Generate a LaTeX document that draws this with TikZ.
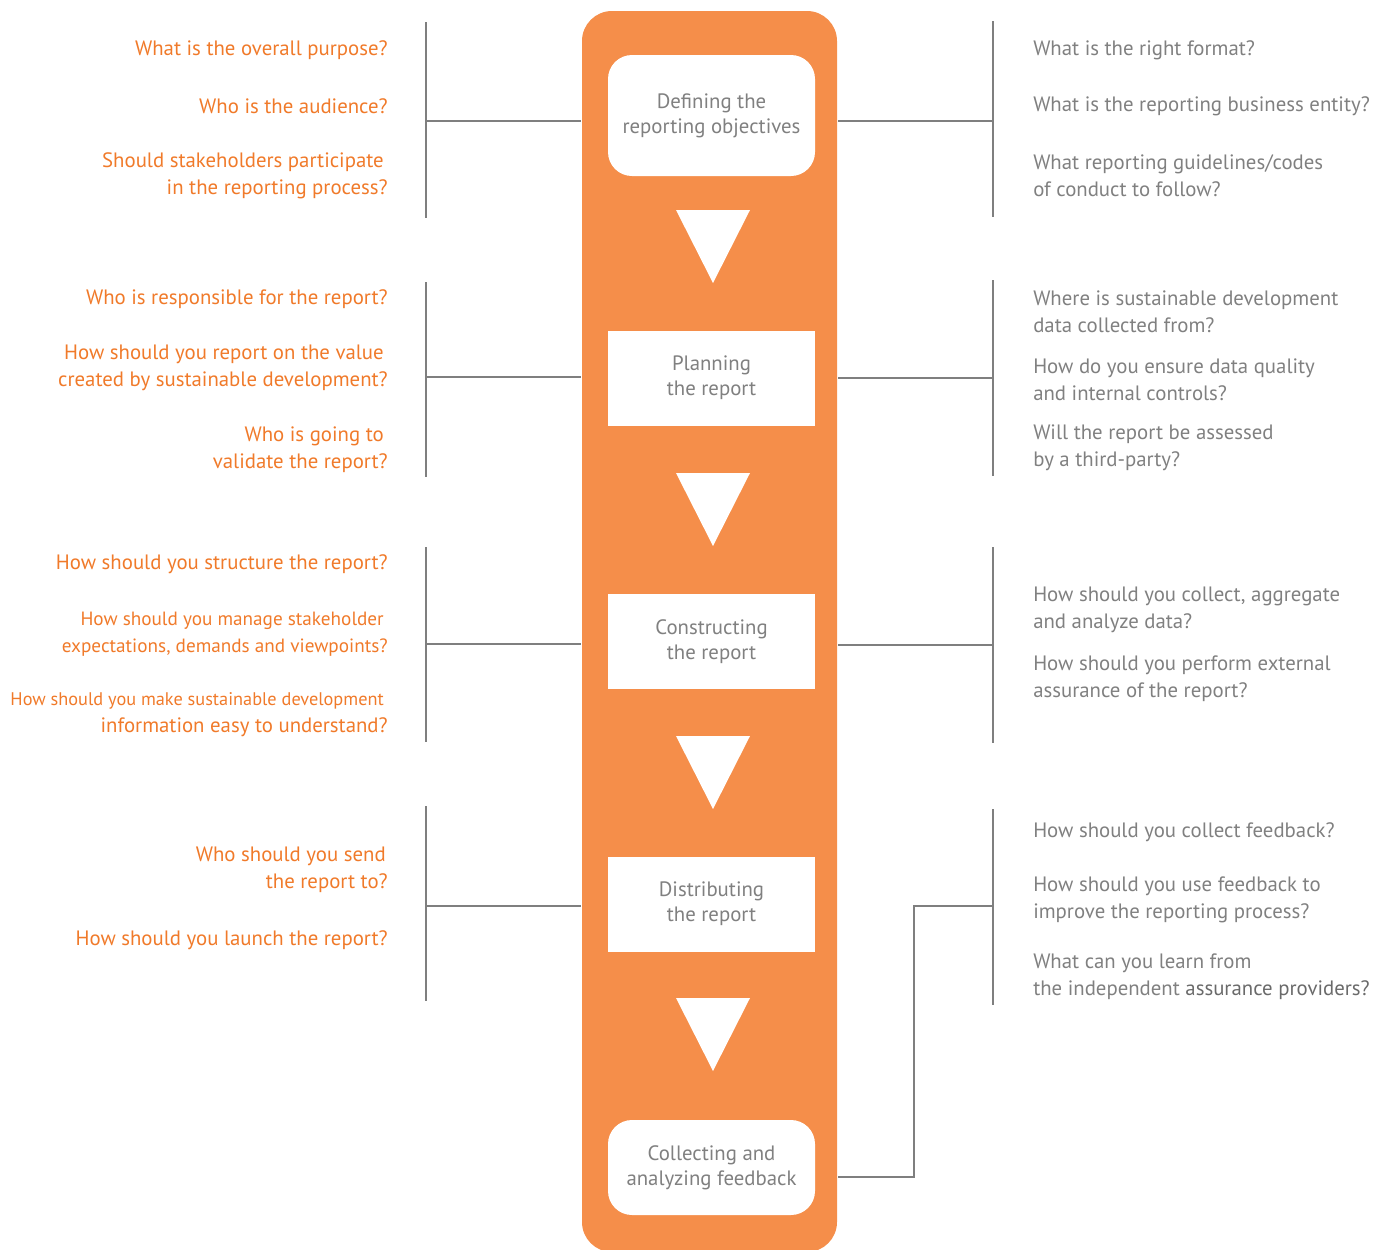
\documentclass[tikz,border=0pt]{standalone}
\usepackage{fontspec}
\setmainfont{PT Sans}
\definecolor{colorange}{HTML}{F58E4A}
\definecolor{qorange}{HTML}{F07A2A}
\definecolor{qgrey}{HTML}{808080}
\definecolor{qdark}{HTML}{6A6A6A}
\definecolor{bargrey}{HTML}{7F7F7F}

\begin{document}
\begin{tikzpicture}[x=0.5pt, y=-0.5pt, line width=1.25pt]
	\tikzstyle{every node}=[inner sep=0pt, font=\fontsize{10.4}{13.5}\selectfont]
	\tikzstyle{lq}=[anchor=east, align=right, text=qorange, yshift=-1pt]
	\tikzstyle{rq}=[anchor=west, align=left, text=qgrey, yshift=-1pt]
	\tikzstyle{stage}=[fill=white, text=qgrey, align=center, minimum width=103.5pt, minimum height=47.5pt, font=\fontsize{10.4}{12.5}\selectfont]
	\tikzstyle{bar}=[draw=bargrey]
	\useasboundingbox (0,0) rectangle (1382,1249);
	\clip (0,0) rectangle (1382,1249);

		% the orange column with the five stages
		\node[fill=colorange, rounded corners=15pt, minimum width=127.5pt, minimum height=620.5pt] (col) at (709.5,631.5) {};
		\node[stage, rounded corners=12pt, minimum height=60.5pt] (defining) at (711.5,115.5) {Defining the\\reporting objectives};
		\node[stage] (planning) at (711.5,378) {Planning\\the report};
		\node[stage] (constructing) at (711.5,641.5) {Constructing\\the report};
		\node[stage] (distributing) at (711.5,904) {Distributing\\the report};
		\node[stage, rounded corners=12pt] (collecting) at (711.5,1167.5) {Collecting and\\analyzing feedback};
		\foreach \y in {210,473,736,998}
			\fill[white] (676,\y) -- (750,\y) -- (713,{\y+73}) -- cycle;

		% brackets
		\foreach \t/\b/\m [count=\i] in {22/218/121, 282/477/377, 547/742/644, 806/1001/906} {
			\draw[bar] (426,\t) -- (426,\b);
			\coordinate (lbar\i) at (426,\m);
		}
		\foreach \t/\b/\m [count=\i] in {21/217/121, 280/476/378, 547/743/645, 809/1005/906} {
			\draw[bar] (993,\t) -- (993,\b);
			\coordinate (rbar\i) at (993,\m);
		}
		\foreach \i in {1,...,4}
			\draw[bar] (lbar\i) -- (lbar\i -| col.west);
		\foreach \i in {1,2,3}
			\draw[bar] (rbar\i) -- (rbar\i -| col.east);
		\coordinate (knee) at (914,906);
		\draw[bar] (rbar4) -- (knee) |- ([yshift=-4.75pt]collecting.east -| col.east);

		% questions on the left
		\node[lq] (purpose) at (389,48) {What is the overall purpose?};
		\node[lq] (audience) at (389,104) {Who is the audience?};
		\node[lq] (participate) at (389,174) {Should stakeholders participate\hspace*{2pt}\\in the reporting process?};
		\node[lq] (responsible) at (389,297) {Who is responsible for the report?};
		\node[lq] (value) at (389,366) {How should you report on the value\hspace*{2pt}\\created by sustainable development?};
		\node[lq] (validate) at (389,448) {Who is going to\hspace*{2pt}\\validate the report?};
		\node[lq] (structure) at (389,562) {How should you structure the report?};
		\node[lq, font=\fontsize{9.6}{13.5}\selectfont] (expectations) at (389,632) {How should you manage stakeholder\hspace*{2pt}\\expectations, demands and viewpoints?};
		\node[lq] (easy) at (389,713) {{\fontsize{9.15}{13.5}\selectfont How should you make sustainable development\hspace*{2pt}}\\information easy to understand?};
		\node[lq] (send) at (389,868) {Who should you send\hspace*{1pt}\\the report to?};
		\node[lq] (launch) at (389,938) {How should you launch the report?};

		% questions on the right
		\node[rq] (format) at (1032,48) {What is the right format?};
		\node[rq] (entity) at (1032,104) {What is the reporting business entity?};
		\node[rq] (guidelines) at (1032,174) {What reporting guidelines/codes\\of conduct to follow?};
		\node[rq] (source) at (1032,310) {Where is sustainable development\\data collected from?};
		\node[rq] (quality) at (1032,378) {How do you ensure data quality\\and internal controls?};
		\node[rq] (assessed) at (1032,446) {Will the report be assessed\\by a third-party?};
		\node[rq] (aggregate) at (1032,608) {How should you collect, aggregate\\and analyze data?};
		\node[rq] (external) at (1032,677) {How should you perform external\\assurance of the report?};
		\node[rq] (feedback) at (1032,830) {How should you collect feedback?};
		\node[rq] (improve) at (1032,898) {How should you use feedback to\\improve the reporting process?};
		\node[rq] (learn) at (1032,975) {What can you learn from\\the independent \textcolor{qdark}{assurance providers?}};
	\end{tikzpicture}
\end{document}
